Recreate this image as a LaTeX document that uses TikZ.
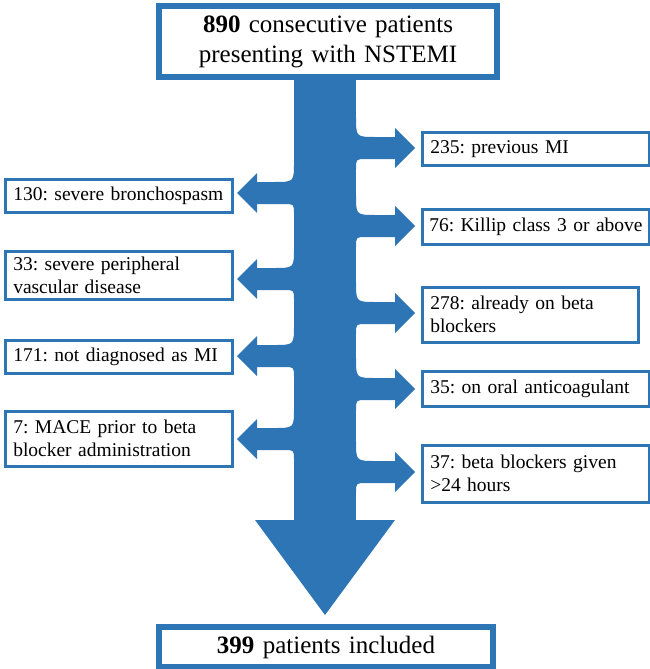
\documentclass[tikz,border=0pt]{standalone}
\usepackage{fontspec}
\setmainfont{Liberation Serif}
\definecolor{bblue}{RGB}{46,117,182}
\frenchspacing
\begin{document}
\begin{tikzpicture}[x=1pt,y=-1pt,
  sbox/.style={draw=bblue, line width=2.5pt, fill=white, inner xsep=8pt, inner ysep=0pt,
    font=\fontsize{19.5}{23}\selectfont\frenchspacing, align=left, anchor=north west},
  bbox/.style={draw=bblue, line width=6pt, fill=white, inner sep=0pt,
    font=\fontsize{25}{30}\selectfont\frenchspacing, align=center, anchor=north west},
  flow/.style={fill=bblue}]
\useasboundingbox (0,0) rectangle (650,669);
% main shaft and head
\fill[flow] (294,70) rectangle (356,521);
\fill[flow] (255,520) -- (395,520) -- (325,615) -- cycle;
% right branches
\foreach \yc in {148,226,313,389,472}{
  \fill[flow] (340,\yc-31) -- (356,\yc-31) .. controls (356,\yc-11) .. (376,\yc-11)
    -- (395,\yc-11) -- (395,\yc-20) -- (415,\yc) -- (395,\yc+20) -- (395,\yc+11)
    -- (366,\yc+11) .. controls (356,\yc+11) .. (356,\yc+21) -- (340,\yc+21) -- cycle;
}
% left branches
\foreach \yc in {193,279,356,439}{
  \fill[flow] (310,\yc-31) -- (294,\yc-31) .. controls (294,\yc-11) .. (274,\yc-11)
    -- (257,\yc-11) -- (257,\yc-20) -- (237,\yc) -- (257,\yc+20) -- (257,\yc+11)
    -- (284,\yc+11) .. controls (294,\yc+11) .. (294,\yc+21) -- (310,\yc+21) -- cycle;
}
% top and bottom boxes
\node[bbox, minimum width=338, minimum height=71, text width=338] (top) at (156,3)
  {\textbf{890} consecutive patients\\presenting with NSTEMI};
\node[bbox, minimum width=334, minimum height=40, text width=334] (bottom) at (156,624)
  {\textbf{399} patients included};
% right boxes
\node[sbox, minimum width=227, minimum height=33, text width=211] (r1) at (421,131)
  {235: previous MI};
\node[sbox, inner xsep=7pt, minimum width=227, minimum height=35, text width=213] (r2) at (421,208)
  {\mbox{76: Killip class 3 or above}};
\node[sbox, minimum width=216, minimum height=55, text width=200] (r3) at (421,286)
  {278: already on beta\\blockers};
\node[sbox, minimum width=227, minimum height=35, text width=211] (r4) at (421,370)
  {35: on oral anticoagulant};
\node[sbox, minimum width=227, minimum height=57, text width=211] (r5) at (421,444)
  {37: beta blockers given\\>24 hours};
% left boxes
\node[sbox, minimum width=227, minimum height=33, text width=211] (l1) at (4,178)
  {130: severe bronchospasm};
\node[sbox, minimum width=227, minimum height=48, text width=211] (l2) at (4,250)
  {33: severe peripheral\\vascular disease};
\node[sbox, minimum width=227, minimum height=33, text width=211] (l3) at (4,339)
  {171: not diagnosed as MI};
\node[sbox, minimum width=227, minimum height=55, text width=211] (l4) at (4,410)
  {7: MACE prior to beta\\blocker administration};
\end{tikzpicture}
\end{document}
